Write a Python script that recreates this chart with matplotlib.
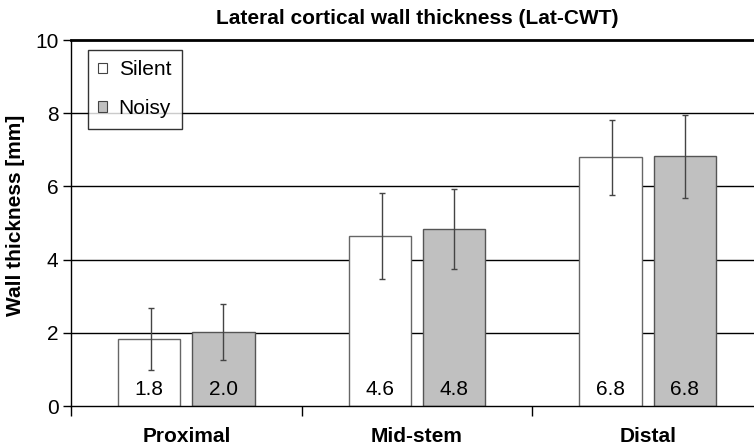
import numpy as np
import matplotlib.pyplot as plt
from matplotlib.patches import Patch

plt.rcParams['font.family'] = ['Liberation Sans', 'DejaVu Sans']

# wall thickness per region, mean and SD
regions = ['Proximal', 'Mid-stem', 'Distal']
silent = [1.83, 4.64, 6.79]
noisy = [2.02, 4.84, 6.82]
silent_sd = [0.85, 1.18, 1.03]
noisy_sd = [0.77, 1.09, 1.14]

fig = plt.figure(figsize=(7.54, 4.45), dpi=100)
ax = fig.add_axes([71/754, 39/445, 692/754, 366/445])

x = np.arange(len(regions)) + 0.5
w = 0.271
off = 0.161

for y in [2, 4, 6, 8]:
    ax.axhline(y, color='black', lw=1.0, zorder=0)

b1 = ax.bar(x - off, silent, w, color='white', edgecolor='#666666', lw=1.0, zorder=2)
b2 = ax.bar(x + off, noisy, w, color='#c0c0c0', edgecolor='#555555', lw=1.0, zorder=2)
ax.errorbar(x - off + 0.008, silent, yerr=silent_sd, fmt='none', ecolor='#444444',
            elinewidth=1.0, capsize=2, capthick=1.0, zorder=3)
ax.errorbar(x + off, noisy, yerr=noisy_sd, fmt='none', ecolor='#444444',
            elinewidth=1.0, capsize=2, capthick=1.0, zorder=3)

# values written near the foot of each bar
for xs, vals in [(x - off, silent), (x + off, noisy)]:
    for xi, v in zip(xs, vals):
        ax.text(xi, 0.45, '%.1f' % v, ha='center', va='center', fontsize=15, zorder=4)

ax.set_xlim(0, 3)
ax.set_ylim(0, 10)
ax.set_yticks([0, 2, 4, 6, 8, 10])
ax.tick_params(axis='y', labelsize=15, length=6, width=1, pad=3)
ax.set_xticks([0, 1, 2, 3])
ax.set_xticklabels([])
ax.tick_params(axis='x', which='major', length=7, width=1, direction='out')
ax.set_xticks(x, minor=True)
ax.set_xticklabels(regions, minor=True, fontsize=15, fontweight='bold')
ax.tick_params(axis='x', which='minor', length=0, pad=15)

ax.spines['right'].set_visible(False)
ax.spines['top'].set_linewidth(2.0)
ax.spines['left'].set_linewidth(1.0)
ax.spines['bottom'].set_linewidth(1.0)

ax.set_ylabel('Wall thickness [mm]', fontsize=15, fontweight='bold')
ax.yaxis.set_label_coords(-46/692, 0.52)
fig.text(417/754, 1 - 18/445, 'Lateral cortical wall thickness (Lat-CWT)',
         ha='center', va='center', fontsize=15, fontweight='bold')

handles = [Patch(facecolor='white', edgecolor='#444444', lw=0.8),
           Patch(facecolor='#c0c0c0', edgecolor='#444444', lw=0.8)]
leg = ax.legend(handles, ['Silent', 'Noisy'], loc='upper left',
                bbox_to_anchor=(17/692, 1 - 10/366), fontsize=15, frameon=True,
                fancybox=False, edgecolor='black', handlelength=0.42,
                handleheight=0.42, handletextpad=0.55, labelspacing=0.95,
                borderpad=0.5, borderaxespad=0)
leg.get_frame().set_linewidth(1.0)

fig.savefig('out.png', dpi=100)
